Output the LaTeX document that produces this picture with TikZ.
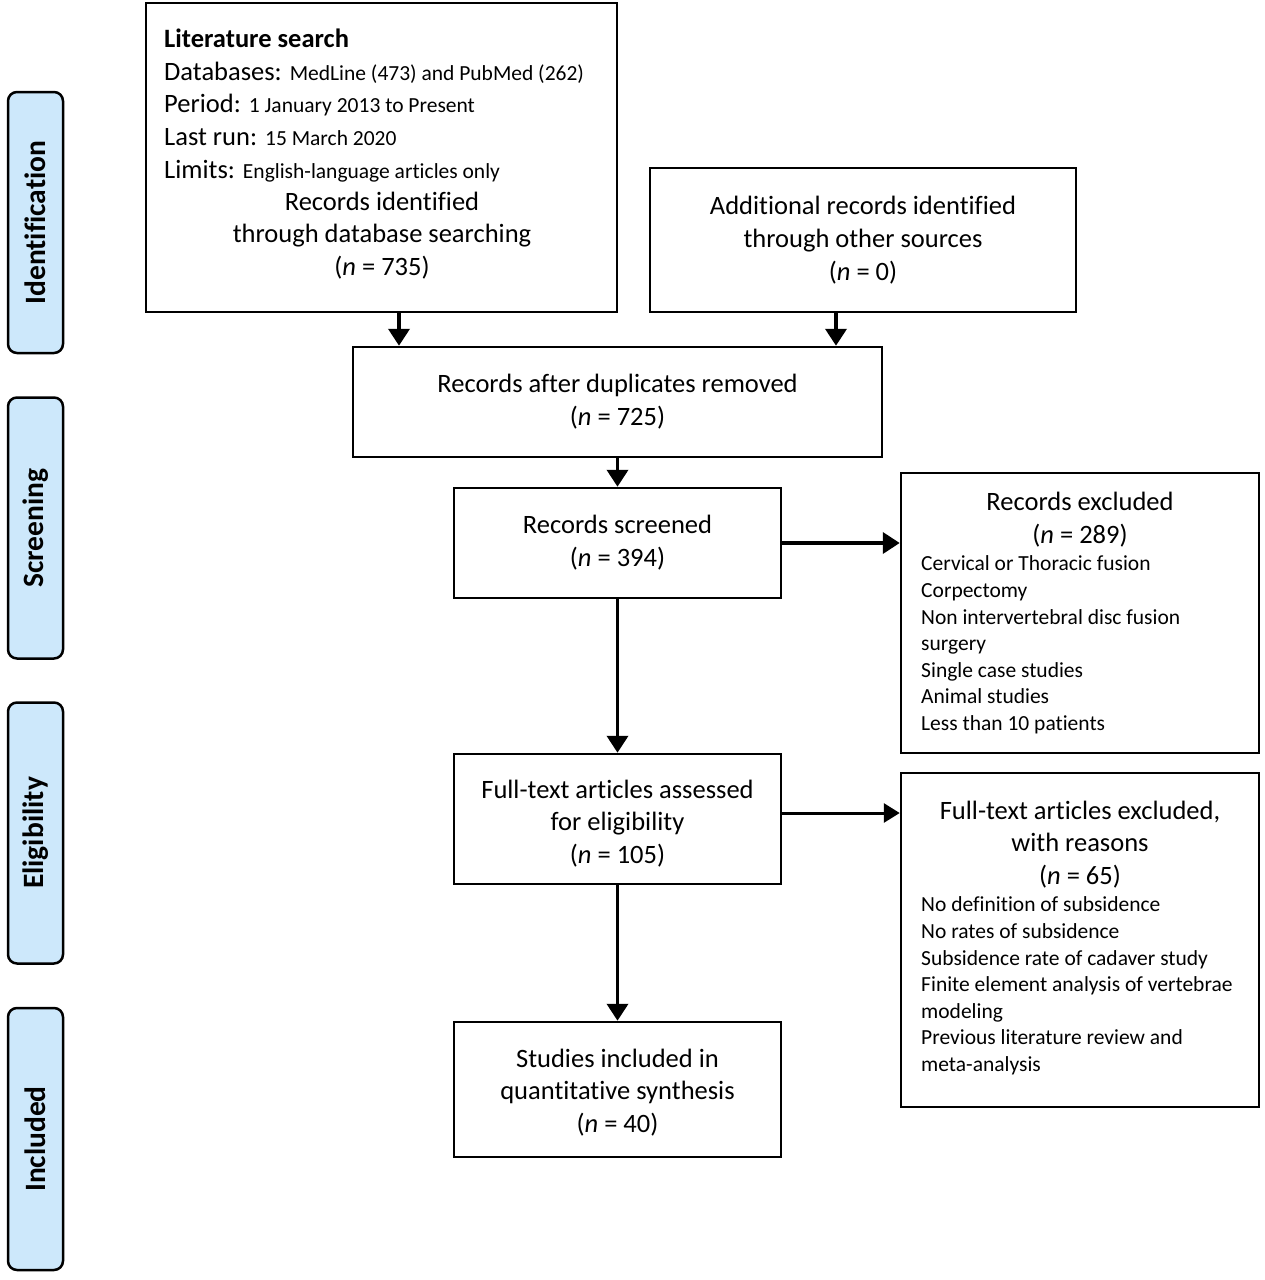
\documentclass[tikz,border=0pt]{standalone}
\usepackage{fontspec}
\setmainfont{Carlito}[Ligatures=NoCommon]
\usetikzlibrary{arrows.meta}
\newcommand\bigtxt{\fontsize{26.5}{32.8}\selectfont}
\newcommand\smtxt{\fontsize{21.5}{26.6}\selectfont}
\newcommand\sidetxt{\fontsize{29.5}{33}\selectfont\bfseries}
\begin{document}
\begin{tikzpicture}[x=1pt,y=-1pt,
  box/.style={draw, line width=2.5pt, inner sep=0pt, align=center, font=\bigtxt},
  side/.style={draw, line width=2.5pt, rounded corners=9pt, fill=sidefill, minimum width=55pt, minimum height=261pt, inner sep=0pt},
  sidelabel/.style={rotate=90, font=\sidetxt, inner sep=0pt},
  txt/.style={inner sep=0pt},
  arr/.style={line width=3.8pt, -{Triangle[width=21pt,length=17pt]}},
  arrthin/.style={line width=3pt, -{Triangle[width=19pt,length=16pt]}}]
\definecolor{sidefill}{RGB}{205,232,251}
\useasboundingbox (0,0) rectangle (1265,1280);
\fill[white] (0,0) rectangle (1265,1280);

% side bars
\node[side] (sid) at (35.5,222.5) {};
\node[sidelabel] (sidl) at (sid.center) {Identification};
\node[side] (ssc) at (35.5,528) {};
\node[sidelabel] (sscl) at (ssc.center) {Screening};
\node[side] (sel) at (35.5,833) {};
\node[sidelabel] (sell) at (sel.center) {Eligibility};
\node[side, minimum height=262pt] (sin) at (35.5,1139) {};
\node[sidelabel] (sinl) at (sin.center) {Included};

% main boxes
\node[box, minimum width=471pt, minimum height=309pt] (lit) at (381.5,157.5) {};
\node[txt, anchor=west, align=left, font=\bigtxt] (littxt) at (164,105.5)
  {{\bfseries Literature search}\\
   Databases: {\smtxt MedLine (473) and PubMed (262)}\\
   Period: {\smtxt 1 January 2013 to Present}\\
   Last run: {\smtxt 15 March 2020}\\
   Limits: {\smtxt English-language articles only}};
\node[txt, align=center, font=\bigtxt] (littxt2) at (382,235.5)
  {Records identified\\through database searching\\(\textit{n} = 735)};

\node[box, minimum width=426pt, minimum height=144pt] (add) at (863,240)
  {Additional records identified\\through other sources\\(\textit{n} = 0)};
\node[box, minimum width=529pt, minimum height=110pt] (dup) at (617.5,402)
  {Records after duplicates removed\\(\textit{n} = 725)};
\node[box, minimum width=327pt, minimum height=110pt] (scr) at (617.5,543)
  {Records screened\\(\textit{n} = 394)};
\node[box, minimum width=358pt, minimum height=280pt] (exc) at (1080,613) {};
\node[txt, align=center, font=\bigtxt] (exch) at (1080,519.5)
  {Records excluded\\(\textit{n} = 289)};
\node[txt, anchor=west, align=left, font=\smtxt] (excl) at (921,645)
  {Cervical or Thoracic fusion\\Corpectomy\\Non intervertebral disc fusion\\surgery\\Single case studies\\Animal studies\\Less than 10 patients};

\node[box, minimum width=327pt, minimum height=130pt] (ft) at (617.5,819) {};
\node[txt, align=center, font=\bigtxt] (fttxt) at (617.5,823.5)
  {Full-text articles assessed\\for eligibility\\(\textit{n} = 105)};
\node[box, minimum width=358pt, minimum height=334pt] (ftx) at (1080,940) {};
\node[txt, align=center, font=\bigtxt] (ftxh) at (1080,844.5)
  {Full-text articles excluded,\\with reasons\\(\textit{n} = 65)};
\node[txt, anchor=west, align=left, font=\smtxt] (ftxl) at (921,986)
  {No definition of subsidence\\No rates of subsidence\\Subsidence rate of cadaver study\\Finite element analysis of vertebrae\\modeling\\Previous literature review and\\meta-analysis};

\node[box, minimum width=327pt, minimum height=135pt] (inc) at (617.5,1089.5) {};
\node[txt, align=center, font=\bigtxt] (inctxt) at (617.5,1092.5)
  {Studies included in\\quantitative synthesis\\(\textit{n} = 40)};

% connectors
\draw[arr] ([xshift=17.5pt]lit.south) -- ([xshift=17.5pt]lit.south |- dup.north);
\draw[arr] ([xshift=-27pt]add.south) -- ([xshift=-27pt]add.south |- dup.north);
\draw[arr] (dup.south) -- (scr.north);
\draw[arr] (scr.south) -- (ft.north);
\draw[arr] (ft.south) -- (inc.north);
\draw[arr] (scr.east) -- (scr.east -| exc.west);
\draw[arrthin] ([yshift=6pt]ft.east) -- ([yshift=6pt]ft.east -| ftx.west);
\end{tikzpicture}
\end{document}
